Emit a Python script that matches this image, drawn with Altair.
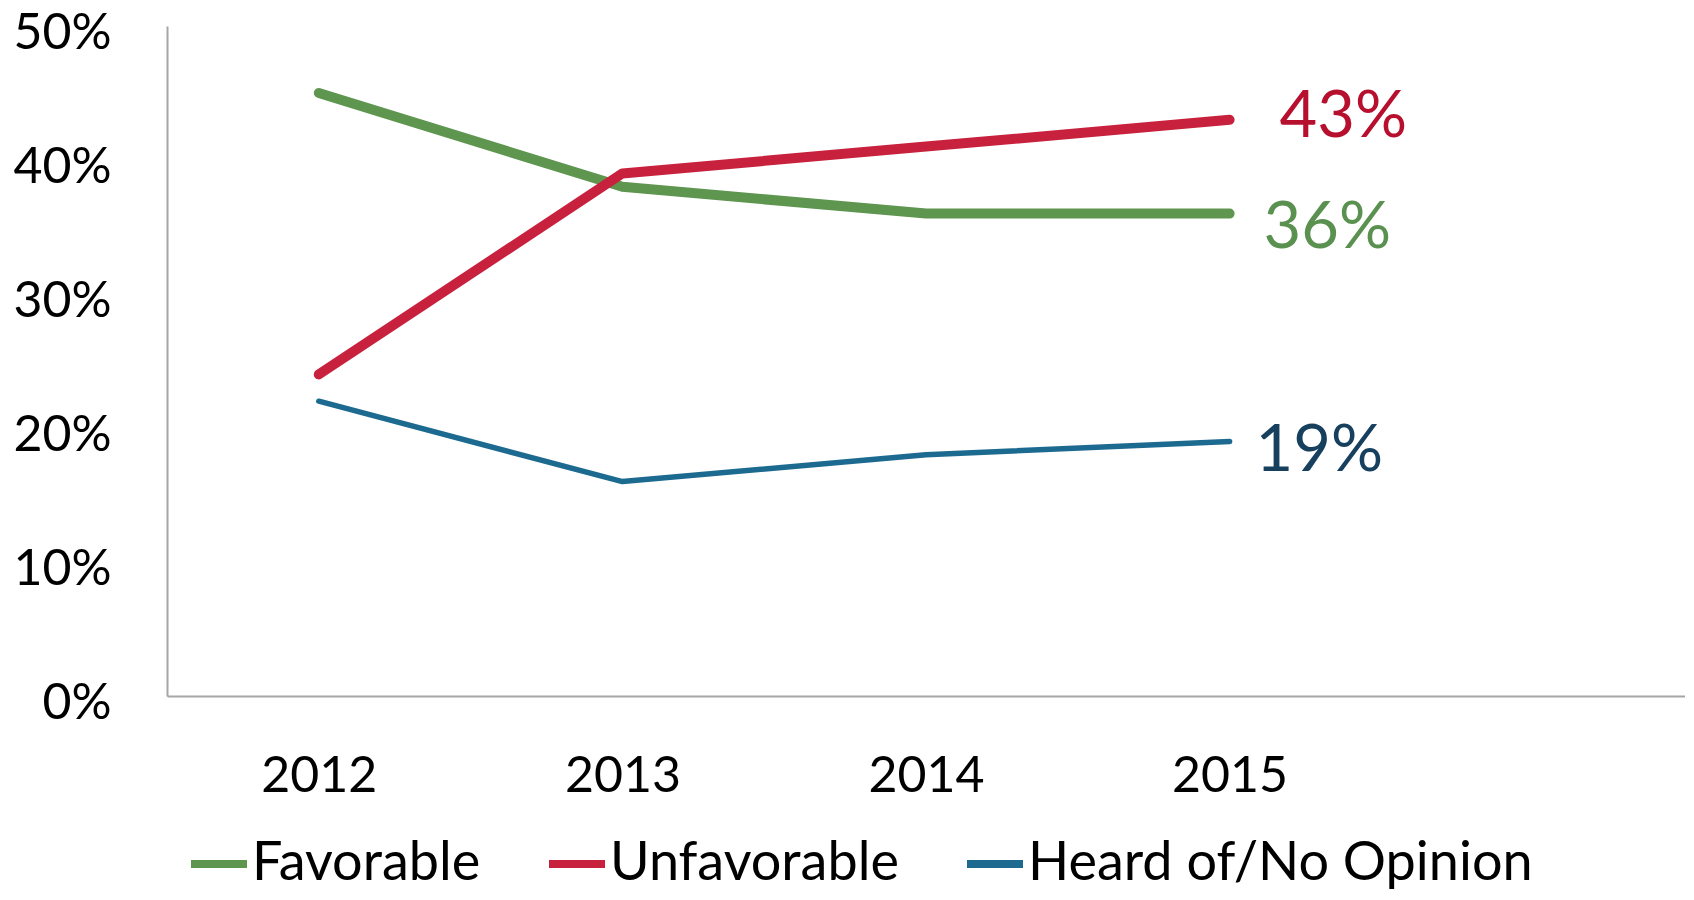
import altair as alt
import pandas as pd

years = [2012, 2013, 2014, 2015]
series_names = ["Favorable", "Unfavorable", "Heard of/No Opinion"]
favorable = [0.45, 0.38, 0.36, 0.36]
unfavorable = [0.24, 0.39, 0.41, 0.43]
heard = [0.22, 0.16, 0.18, 0.19]
y_ticks = [0, 0.1, 0.2, 0.3, 0.4, 0.5]

line_colors = ["#5E9650", "#C8213E", "#1D6A91"]
line_widths = [10, 10, 5.5]
label_colors = ["#5B9150", "#B70F2E", "#17405E"]
label_dx = [34, 50, 26]
label_dy = [14, -3, 10]

FONT = "Lato"

all_values = [favorable, unfavorable, heard]
rows = []
for name, vals in zip(series_names, all_values):
    for yr, v in zip(years, vals):
        rows.append({"year": yr, "series": name, "value": v})
df = pd.DataFrame(rows)

x_enc = alt.X(
    "year:Q",
    scale=alt.Scale(domain=[2011.5, 2016.5], nice=False, zero=False),
    axis=alt.Axis(
        values=years, format="d", title=None, ticks=False, grid=False,
        labelFontSize=50, labelFont=FONT, labelColor="black",
        labelPadding=55, labelFlush=False,
        domainColor="#A6A6A6", domainWidth=2,
    ),
)
y_enc = alt.Y(
    "value:Q",
    scale=alt.Scale(domain=[0, 0.5], nice=False),
    axis=alt.Axis(
        values=y_ticks, format=".0%", title=None, ticks=False, grid=False,
        labelFontSize=50, labelFont=FONT, labelColor="black",
        labelPadding=56, labelOffset=7,
        domainColor="#A6A6A6", domainWidth=2,
    ),
)
color_enc = alt.Color(
    "series:N", scale=alt.Scale(domain=series_names, range=line_colors),
    sort=series_names, legend=alt.Legend(title=None),
)

layers = []
for i, name in enumerate(series_names):
    layer = alt.Chart(df).transform_filter(
        alt.datum.series == name
    ).mark_line(strokeCap="round", strokeJoin="round", strokeWidth=line_widths[i]).encode(
        x=x_enc, y=y_enc, color=color_enc,
    )
    layers.append(layer)

for i, (name, vals) in enumerate(zip(series_names, all_values)):
    d = pd.DataFrame({"year": [years[-1]], "value": [vals[-1]]})
    t = alt.Chart(d).mark_text(
        align="left", baseline="middle", dx=label_dx[i], dy=label_dy[i],
        fontSize=65, font=FONT, color=label_colors[i],
    ).encode(
        x="year:Q", y="value:Q", text=alt.Text("value:Q", format=".0%"),
    )
    layers.append(t)

chart = alt.layer(*layers).properties(
    width=1518,
    height=670,
    autosize=alt.AutoSizeParams(type="none"),
    padding={"left": 159, "top": 18, "right": 0, "bottom": 196},
).configure_view(stroke=None).configure_legend(
    orient="none", legendX=20, legendY=806, direction="horizontal",
    symbolType="stroke", symbolSize=3136, symbolStrokeWidth=8,
    labelFontSize=54, labelFont=FONT,
    labelColor="black", labelLimit=0, labelOffset=1, columnPadding=52,
)

chart.save("out.html", embed_options={"renderer": "svg", "actions": False})
